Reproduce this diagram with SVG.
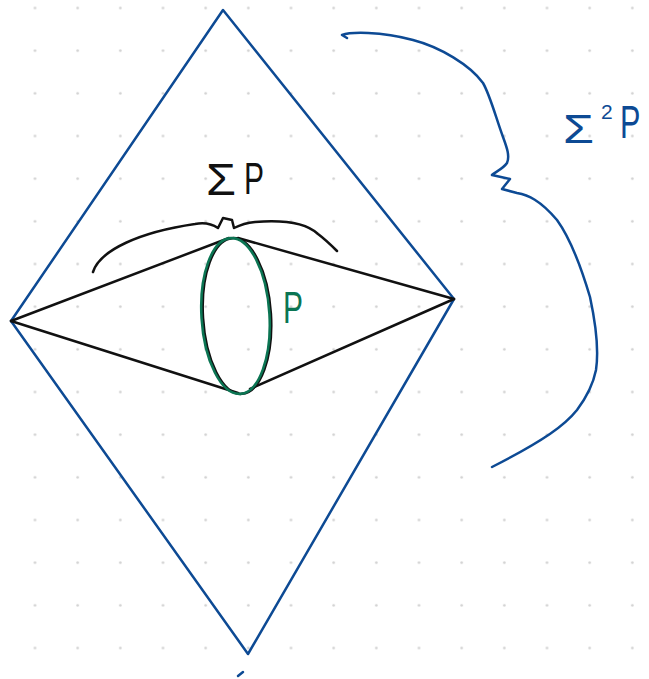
<svg xmlns="http://www.w3.org/2000/svg" width="649" height="679" viewBox="0 0 649 679">
  <style>
    .blue { fill: none; stroke: #0d4a94; stroke-width: 2.5; stroke-linecap: round; stroke-linejoin: round; }
    .ink { fill: none; stroke: #111111; stroke-width: 2.5; stroke-linecap: round; stroke-linejoin: round; }
    .green { fill: none; stroke: #0b7553; stroke-width: 2.6; }
    .lbl { font-family: "Liberation Sans", "DejaVu Sans", sans-serif; font-weight: normal; }
  </style>
  <defs>
    <pattern id="dots" patternUnits="userSpaceOnUse" x="13.667" y="-13.333" width="42.667" height="42.667">
      <circle cx="21.333" cy="21.333" r="1.3" fill="#d0d0d0"/>
    </pattern>
  </defs>
  <rect width="649" height="679" fill="#ffffff"/>
  <rect width="649" height="679" fill="url(#dots)"/>

  <g id="outer-diamond">
    <polygon class="blue" points="223,10 454,299 248,654 11,321"/>
    <line class="blue" x1="238" y1="676" x2="243" y2="672"/>
  </g>

  <g id="connectors">
    <line class="ink" x1="11" y1="321" x2="229" y2="238"/>
    <line class="ink" x1="238" y1="238" x2="454" y2="299"/>
    <line class="ink" x1="11" y1="321" x2="238" y2="393"/>
    <line class="ink" x1="250" y1="389" x2="454" y2="299"/>
  </g>

  <g id="circle-P">
    <ellipse class="ink" cx="237" cy="316" rx="34" ry="78" transform="rotate(-3.5 237 316)"/>
    <ellipse class="green" cx="235.5" cy="316" rx="34" ry="78" transform="rotate(-3.5 235.5 316)"/>
    <text class="lbl" x="283" y="323" font-size="45" fill="#0b7553" textLength="20" lengthAdjust="spacingAndGlyphs">P</text>
  </g>

  <g id="sigma-P">
    <path class="ink" d="M93,272 C100,250 140,232 195,224 C205,222 212,224 218,228 L223,218 L232,220 L234,228 C240,225 245,223 255,222 C280,220 305,222 318,234 C326,240 332,246 337,251"/>
    <text class="lbl" x="206" y="195" font-size="44" fill="#111111" textLength="30" lengthAdjust="spacingAndGlyphs">Σ</text>
    <text class="lbl" x="244" y="194" font-size="44" fill="#111111" textLength="20" lengthAdjust="spacingAndGlyphs">P</text>
  </g>

  <g id="sigma2-P">
    <path class="blue" d="M347,38 L342,35 C350,32 380,31 413,40 C440,47 470,65 483,83 C490,95 496,118 503,137 C507,148 510,156 507,163 C503,169 495,172 492,175 L510,179 L502,189 L517,193 C528,195 540,200 557,220 C570,238 582,270 590,297 C596,325 599,350 596,370 C593,385 586,398 577,410 C565,425 545,440 492,467"/>
    <text class="lbl" x="563" y="143" font-size="40" fill="#0d4a94" textLength="31" lengthAdjust="spacingAndGlyphs">Σ</text>
    <text class="lbl" x="601" y="119" font-size="21" fill="#0d4a94">2</text>
    <text class="lbl" font-size="36" fill="#0d4a94" transform="translate(620,138) scale(0.85,1.28)">P</text>
  </g>
</svg>
